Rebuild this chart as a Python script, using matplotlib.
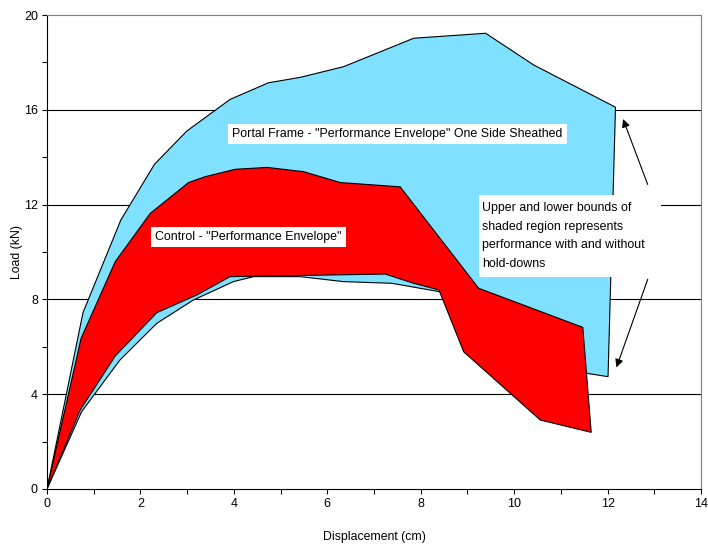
import matplotlib.pyplot as plt
import numpy as np

# portal frame envelope, one side sheathed (upper / lower bounds)
portal_up_x = [0, 0.77, 1.58, 2.30, 2.99, 3.92, 4.74, 5.42, 6.35, 7.85, 9.39, 10.42, 12.17]
portal_up_y = [0, 7.44, 11.35, 13.70, 15.10, 16.44, 17.14, 17.37, 17.82, 19.02, 19.23, 17.89, 16.11]
portal_lo_x = [0, 0.74, 1.56, 2.35, 3.13, 3.99, 4.42, 5.42, 6.35, 7.38, 8.39, 11.56, 12.01]
portal_lo_y = [0, 3.26, 5.44, 6.99, 7.97, 8.75, 8.96, 8.96, 8.75, 8.68, 8.33, 4.88, 4.74]

# control envelope
control_up_x = [0, 0.73, 1.46, 2.21, 3.03, 3.39, 4.03, 4.71, 5.49, 6.28, 7.56, 9.24, 11.47]
control_up_y = [0, 6.36, 9.59, 11.63, 12.93, 13.18, 13.49, 13.57, 13.39, 12.93, 12.75, 8.47, 6.82]
control_lo_x = [0, 0.71, 1.46, 2.35, 3.21, 3.92, 7.24, 7.85, 8.39, 8.92, 10.56, 11.65]
control_lo_y = [0, 3.33, 5.61, 7.44, 8.19, 8.96, 9.07, 8.68, 8.40, 5.79, 2.91, 2.39]

label_portal = 'Portal Frame - "Performance Envelope" One Side Sheathed'
label_control = 'Control - "Performance Envelope"'
label_note = ("Upper and lower bounds of\nshaded region represents\n"
              "performance with and without\nhold-downs")


def envelope(ax, ux, uy, lx, ly, color):
    # walk along the upper bound, then back along the lower bound
    px = list(ux) + list(lx)[::-1]
    py = list(uy) + list(ly)[::-1]
    ax.fill(px, py, facecolor=color, edgecolor="black", linewidth=0.8, zorder=3)


def main():
    plt.rcParams['font.family'] = ['Liberation Sans', 'DejaVu Sans']
    fig = plt.figure(figsize=(7.08, 5.46), dpi=100)
    ax = fig.add_axes([0.0664, 0.1044, 0.9237, 0.8681])

    envelope(ax, portal_up_x, portal_up_y, portal_lo_x, portal_lo_y, "#80e0ff")
    envelope(ax, control_up_x, control_up_y, control_lo_x, control_lo_y, "#ff0000")

    ax.set_xlim(0, 14)
    ax.set_ylim(0, 20)
    ax.set_xticks(np.arange(0, 15, 2))
    ax.set_xticks(np.arange(1, 14, 2), minor=True)
    ax.set_yticks(np.arange(0, 21, 4))
    ax.set_yticks(np.arange(2, 20, 4), minor=True)
    ax.tick_params(which="both", direction="out", length=3.5, width=0.8,
                   labelsize=9, pad=3)
    for y in [4, 8, 12, 16]:
        ax.axhline(y, color="black", linewidth=0.8, zorder=1)
    ax.spines["top"].set_color("#808080")
    ax.spines["right"].set_color("#808080")

    ax.set_xlabel("Displacement (cm)", fontsize=8.8, labelpad=15)
    ax.set_ylabel("Load (kN)", fontsize=8.8, labelpad=1)

    box = dict(facecolor="white", edgecolor="none", pad=3)
    ax.text(3.96, 14.98, label_portal, fontsize=8.9, va="center", ha="left",
            bbox=box, zorder=5)
    ax.text(2.31, 10.63, label_control, fontsize=8.9, va="center", ha="left",
            bbox=box, zorder=5)
    # white panel behind the note, a bit wider than the text
    ax.axvspan(9.24, 13.14, ymin=8.95 / 20, ymax=12.4 / 20, facecolor="white",
               edgecolor="none", zorder=4)
    ax.text(9.32, 12.12, label_note, fontsize=8.9, va="top", ha="left",
            linespacing=1.75, zorder=5)

    arrow = dict(arrowstyle="-|>", color="black", lw=0.8, mutation_scale=12)
    ax.annotate("", xy=(12.31, 15.72), xytext=(12.88, 12.74),
                arrowprops=arrow, zorder=6)
    ax.annotate("", xy=(12.17, 5.02), xytext=(12.88, 8.96),
                arrowprops=arrow, zorder=6)

    fig.savefig("out.png", dpi=100)
    return


if __name__ == "__main__":
    main()
